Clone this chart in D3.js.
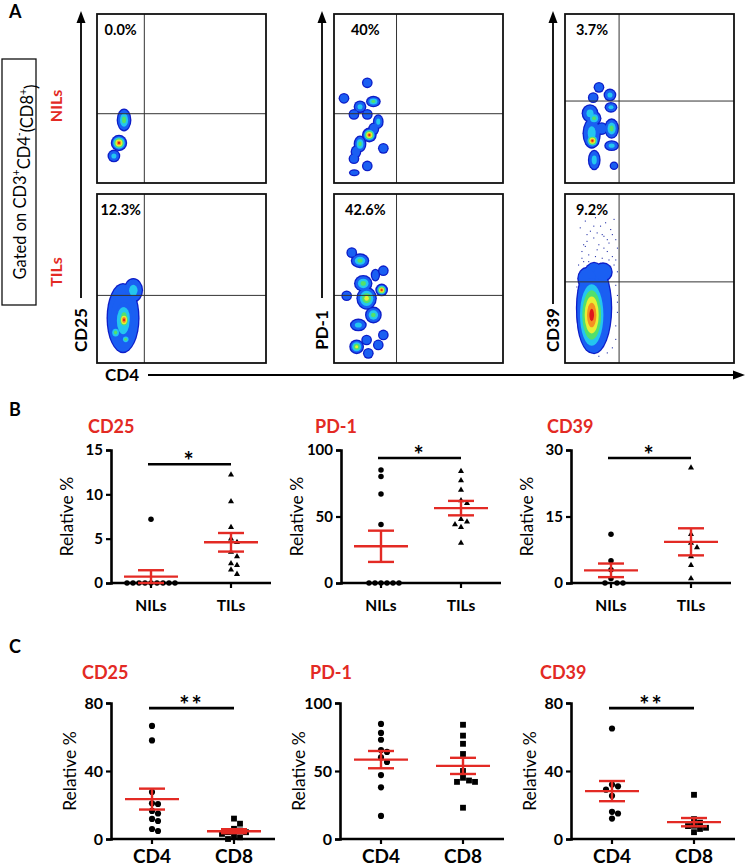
<!DOCTYPE html>
<html>
<head>
<meta charset="utf-8">
<script src="https://cdn.jsdelivr.net/npm/d3@7"></script>
<style>
  body { margin: 0; background: #fff; }
  svg { display: block; font-family: Lato, "Open Sans", sans-serif; }
</style>
</head>
<body>
<svg id="fig" width="745" height="866"></svg>
<script>
// ---------- data: panel A (flow plots, units 0-100 on both axes) ----------
const flowMarkers = ["CD25", "PD-1", "CD39"];
const flowGroups = ["NILs", "TILs"];
const flowPercents = [["0.0%", "12.3%"], ["40%", "42.6%"], ["3.7%", "9.2%"]];
const flowGates = [[[28, 41], [28, 40]], [[37, 41], [37, 40]], [[32, 48.5], [32, 48]]];

// blobs: [x, y, rx, ry, peak level]
const blobsCD25Nils = [[16, 37.3, 3.6, 6, 3], [13, 23.7, 4.1, 4.1, 6], [10, 16, 3, 3, 2]];
const blobsCD25Tils = [
  [15.4, 26.6, 9, 20, 1], [21.5, 43, 5, 6.5, 2], [15.5, 25, 7.5, 16, 2], [16, 27, 5, 9, 3],
  [11, 18, 3, 3.5, 3], [16, 25.5, 3.5, 5, 6], [17, 14, 2.5, 2.5, 3]
];
const blobsPD1Nils = [
  [19.7, 59.3, 2.4, 2.4, 1], [5.9, 50.1, 2.4, 2.4, 1], [23.3, 48.2, 3.6, 2.6, 3], [15.4, 45.1, 3, 3, 2],
  [11.8, 40.6, 2.4, 2.4, 1], [19.7, 40.6, 2.4, 2.4, 1], [26.2, 36.3, 2.4, 3.6, 2], [23.5, 32, 2.5, 3, 1],
  [20.9, 28.4, 3.6, 3.6, 6], [15.4, 23.1, 3, 4.2, 3], [13, 18.5, 2.4, 3, 1], [29.2, 20.5, 2.4, 2.4, 1],
  [11.8, 14.4, 2.4, 2.4, 1], [19.7, 10.1, 2.4, 2.4, 1], [12, 6.1, 2.4, 1.3, 1]
];
const blobsPD1Tils = [
  [10.5, 65.3, 2.4, 2.4, 1], [15.4, 60.5, 4.7, 3.6, 3], [29.2, 54.6, 2.4, 2.4, 1], [24.5, 52, 2, 3, 1],
  [28.2, 43.2, 3, 3, 6], [7.5, 39.8, 2.4, 2.4, 1], [17.3, 47.1, 4.7, 4.2, 3], [19.3, 38.3, 5.3, 6, 4],
  [23.3, 28.4, 4.2, 4.2, 3], [14.4, 22.5, 4.2, 3, 2], [13.4, 9.6, 3.6, 3.6, 4], [19.3, 13.6, 2.4, 2.4, 1],
  [26.2, 10.7, 2.4, 2.4, 1], [29.2, 16.6, 2.4, 2.4, 1], [20.3, 5.7, 2.4, 2.4, 1]
];
const blobsCD39Nils = [
  [20.1, 56.6, 2.4, 2.4, 1], [16.7, 50.5, 2.4, 2.4, 1], [26.6, 52.1, 3, 3, 2], [27.2, 44.8, 3, 2.4, 2],
  [14.8, 41.2, 4.2, 4.7, 2], [17.2, 38.3, 3.6, 3.6, 3], [15.8, 29.4, 4.7, 8.3, 2], [16.2, 25, 3.5, 3.5, 6],
  [27.6, 32.2, 3.6, 5.3, 3], [21.7, 32.2, 3, 3, 1], [27.6, 22.1, 3.6, 2.4, 2], [17.3, 13.6, 3, 5.3, 2],
  [29, 10.2, 1.8, 1.8, 1]
];
const blobsCD39Tils = [[17.2, 32.5, 10, 26.6, 1], [22.5, 53.8, 5, 5, 1], [13, 50, 5, 6, 1], [15.8, 28.4, 8.3, 21.9, 6]];
const dotsCD39Tils = [
  [9,80],[12,84],[15,78],[18,86],[21,81],[24,83],[27,79],[29,85],[13,72],[17,74],[20,70],[23,75],
  [26,71],[30,73],[10,66],[14,64],[19,67],[22,62],[25,66],[28,63],[31,68],[8,58],[11,56],[29,58],
  [31,54],[8,50],[30,46],[9,42],[31,40],[8,34],[31,30],[9,24],[30,22],[10,16],[30,14],[12,10],
  [28,9],[15,7],[25,6],[20,4],[16,88],[22,76],[11,60],[27,57],[12,69],[24,88],[7,45],[31,36],
  [10,62],[14,60],[18,63],[26,61],[30,61],[9,54],[12,52],[16,57],[21,59],[27,53],[13,76],[19,77],
  [25,73],[11,70],[28,76],[17,81],[23,68]
];
const flowBlobs = [[blobsCD25Nils, blobsCD25Tils], [blobsPD1Nils, blobsPD1Tils], [blobsCD39Nils, blobsCD39Tils]];
const flowDots = [[[], []], [[], []], [[], dotsCD39Tils]];

// ---------- data: panel B (NILs vs TILs) ----------
const bMarkers = ["CD25", "PD-1", "CD39"];
const bGroups = ["NILs", "TILs"];
const bCD25Nils = [7.2, 0, 0, 0, 0, 0, 0, 0, 0, 0];
const bCD25Tils = [12.2, 9.2, 6.3, 5.0, 4.6, 3.5, 3.0, 2.2, 2.0, 1.5, 1.0];
const bPD1Nils = [85, 80, 67, 44, 0, 0, 0, 0, 0, 0];
const bPD1Tils = [84, 77, 70, 62, 60, 48, 46, 44, 42, 30];
const bCD39Nils = [11, 5, 3, 1, 0, 0, 0];
const bCD39Tils = [26, 11, 9, 8, 6, 4, 1];
const bDomains = [[0, 15], [0, 100], [0, 30]];
const bTicks = [[0, 5, 10, 15], [0, 50, 100], [0, 15, 30]];
const bSig = [["*", 13.4], ["*", 94], ["*", 28.2]];

// ---------- data: panel C (CD4 vs CD8) ----------
const cMarkers = ["CD25", "PD-1", "CD39"];
const cGroups = ["CD4", "CD8"];
const cCD25CD4 = [66.5, 58, 27.6, 21, 20.6, 16.5, 15, 11.8, 10.6, 5.9, 4.7];
const cCD25CD8 = [12, 9, 6, 5, 4, 4, 3, 2, 1, 0];
const cPD1CD4 = [84.6, 78, 73, 65.4, 64, 60, 56.6, 47, 38, 17];
const cPD1CD8 = [84, 76, 70, 62.5, 50, 45, 42, 42, 43, 23];
const cCD39CD4 = [65, 31, 32, 29, 25.4, 16, 15, 12];
const cCD39CD8 = [26, 11.7, 9.6, 7.8, 5.9, 4, 6.6, 7.6];
const cDomains = [[0, 80], [0, 100], [0, 80]];
const cTicks = [[0, 40, 80], [0, 50, 100], [0, 40, 80]];
const cSig = [["**", 77], null, ["**", 77]];

const bValues = [[bCD25Nils, bCD25Tils], [bPD1Nils, bPD1Tils], [bCD39Nils, bCD39Tils]];
const cValues = [[cCD25CD4, cCD25CD8], [cPD1CD4, cPD1CD8], [cCD39CD4, cCD39CD8]];

// ---------- styles ----------
const RED = "#e32a24";
const JET = ["#0d1dc8", "#1a5ff2", "#24c6ef", "#52e06c", "#e9ef34", "#f49122", "#e0161b"];

const svg = d3.select("#fig");
svg.append("rect").attr("width", 745).attr("height", 866).attr("fill", "#fff");

function panelLetter(t, x, y) {
  svg.append("text").attr("x", x).attr("y", y).attr("font-size", 18).attr("font-weight", 700).text(t);
}

// ================= Panel A =================
panelLetter("A", 9, 18);
const colX = [97, 334, 565];
const rowY = [14, 194];
const box = 169;
const arrowX = [81, 322, 553];
const arrowEnd = [298, 298, 304];

const defs = svg.append("defs");
flowMarkers.forEach((m, c) => {
  flowGroups.forEach((grp, r) => {
    const g = svg.append("g").attr("transform", `translate(${colX[c]},${rowY[r]})`);
    const xS = d3.scaleLinear().domain([0, 100]).range([0, box]);
    const yS = d3.scaleLinear().domain([0, 100]).range([box, 0]);
    const clipId = `clip-${c}-${r}`;
    defs.append("clipPath").attr("id", clipId).append("rect").attr("width", box).attr("height", box);
    const inner = g.append("g").attr("clip-path", `url(#${clipId})`);

    // scattered events
    inner.selectAll("rect.ev").data(flowDots[c][r]).join("rect")
      .attr("x", d => xS(d[0]) - 0.5).attr("y", d => yS(d[1]) - 0.5)
      .attr("width", 1.1).attr("height", 1.1).attr("fill", "#2633a8");

    // density contours, drawn level by level so neighbouring blobs merge
    const blobs = flowBlobs[c][r];
    const rxPx = b => xS(b[2]) - xS(0);
    const ryPx = b => yS(0) - yS(b[3]);
    inner.selectAll("ellipse.edge").data(blobs).join("ellipse")
      .attr("cx", d => xS(d[0])).attr("cy", d => yS(d[1]))
      .attr("rx", d => rxPx(d) + 1.3).attr("ry", d => ryPx(d) + 1.3)
      .attr("fill", JET[0]);
    for (let k = 1; k <= 6; k++) {
      const sel = blobs.filter(b => b[4] >= k);
      inner.append("g").selectAll("ellipse").data(sel).join("ellipse")
        .attr("cx", d => xS(d[0])).attr("cy", d => yS(d[1]))
        .attr("rx", d => rxPx(d) * (1 - (k - 1) / d[4]))
        .attr("ry", d => ryPx(d) * (1 - (k - 1) / d[4]))
        .attr("fill", JET[k]);
    }

    // quadrant gates
    const [gx, gy] = flowGates[c][r];
    g.append("line").attr("x1", xS(gx)).attr("x2", xS(gx)).attr("y1", 0).attr("y2", box)
      .attr("stroke", "#333").attr("stroke-width", 1);
    g.append("line").attr("x1", 0).attr("x2", box).attr("y1", yS(gy)).attr("y2", yS(gy))
      .attr("stroke", "#333").attr("stroke-width", 1);
    g.append("rect").attr("width", box).attr("height", box)
      .attr("fill", "none").attr("stroke", "#111").attr("stroke-width", 1.8);

    g.append("text").attr("x", xS(gx / 2)).attr("y", 21)
      .attr("text-anchor", "middle").attr("font-size", 14.5).attr("font-weight", 700)
      .text(flowPercents[c][r]);
  });

  // vertical marker axis with arrow
  const ax = arrowX[c];
  svg.append("line").attr("x1", ax).attr("x2", ax).attr("y1", 20).attr("y2", arrowEnd[c])
    .attr("stroke", "#000").attr("stroke-width", 1.8);
  svg.append("path").attr("d", `M${ax - 4.5},23 L${ax},11 L${ax + 4.5},23 Z`).attr("fill", "#000");
  svg.append("text").attr("transform", `translate(${ax},330) rotate(-90)`)
    .attr("dy", "0.36em").attr("text-anchor", "middle")
    .attr("font-size", 17).attr("font-weight", 700).text(m);
});

// CD4 horizontal axis
svg.append("text").attr("x", 122).attr("y", 381).attr("text-anchor", "middle")
  .attr("font-size", 17).attr("font-weight", 700).text("CD4");
svg.append("line").attr("x1", 148).attr("x2", 736).attr("y1", 375).attr("y2", 375)
  .attr("stroke", "#000").attr("stroke-width", 1.8);
svg.append("path").attr("d", "M733,370.5 L745,375 L733,379.5 Z").attr("fill", "#000");

// gating box
svg.append("rect").attr("x", 2).attr("y", 59).attr("width", 34).attr("height", 246)
  .attr("fill", "none").attr("stroke", "#111").attr("stroke-width", 1.3);
const gt = svg.append("text").attr("transform", "translate(20,182) rotate(-90)")
  .attr("dy", "0.36em").attr("text-anchor", "middle").attr("font-size", 16.5);
gt.append("tspan").text("Gated on CD3");
gt.append("tspan").attr("font-size", 10.5).attr("dy", "-0.6em").text("+");
gt.append("tspan").attr("dy", "0.6em").text("CD4");
gt.append("tspan").attr("font-size", 10.5).attr("dy", "-0.6em").text("-");
gt.append("tspan").attr("dy", "0.6em").text("(CD8");
gt.append("tspan").attr("font-size", 10.5).attr("dy", "-0.6em").text("+");
gt.append("tspan").attr("dy", "0.6em").text(")");

[["NILs", 106], ["TILs", 272]].forEach(([t, cy]) => {
  svg.append("text").attr("transform", `translate(56,${cy}) rotate(-90)`)
    .attr("dy", "0.36em").attr("text-anchor", "middle")
    .attr("font-size", 16).attr("font-weight", 700).attr("fill", RED).text(t);
});

// ================= Panels B & C =================
function swarmOffsets(vals, yS, step) {
  const placed = [];
  const offs = new Array(vals.length);
  const order = vals.map((v, i) => i).sort((a, b) => vals[b] - vals[a]);
  for (const i of order) {
    const y = yS(vals[i]);
    for (let k = 0; ; k++) {
      const o = k === 0 ? 0 : (k % 2 ? 1 : -1) * Math.ceil(k / 2) * step;
      if (placed.every(p => Math.hypot(p.x - o, p.y - y) >= step)) {
        offs[i] = o; placed.push({ x: o, y }); break;
      }
    }
  }
  return offs;
}

function dotPlot(cfg) {
  const { axisX, yTop, yBottom, span, domain, ticks, groups, values, shapes, sizes,
          sig, title, titleX, titleY, catFont, catY, tickFont, labelX } = cfg;
  const g = svg.append("g");
  const y = d3.scaleLinear().domain(domain).range([yBottom, yTop]);
  const x = d3.scalePoint().domain(groups).range([axisX, axisX + span]).padding(0.5);

  g.append("text").attr("x", titleX).attr("y", titleY).attr("font-size", 18)
    .attr("font-weight", 700).attr("fill", RED).text(title);

  const yAxis = g.append("g").attr("transform", `translate(${axisX},0)`)
    .call(d3.axisLeft(y).tickValues(ticks).tickSize(5).tickPadding(3));
  yAxis.select(".domain").attr("stroke-width", 2.6);
  yAxis.selectAll(".tick line").attr("stroke-width", 2.2);
  yAxis.selectAll(".tick text").attr("font-size", tickFont).attr("font-weight", 700)
    .attr("font-family", "Lato, sans-serif").attr("fill", "#000");

  g.append("line").attr("x1", axisX).attr("x2", axisX + span).attr("y1", yBottom).attr("y2", yBottom)
    .attr("stroke", "#000").attr("stroke-width", 2.6);
  groups.forEach(grp => {
    g.append("line").attr("x1", x(grp)).attr("x2", x(grp)).attr("y1", yBottom).attr("y2", yBottom + 5)
      .attr("stroke", "#000").attr("stroke-width", 2.2);
    g.append("text").attr("x", x(grp)).attr("y", catY).attr("text-anchor", "middle")
      .attr("font-size", catFont).attr("font-weight", 700).text(grp);
  });

  g.append("text").attr("transform", `translate(${labelX},${(yTop + yBottom) / 2}) rotate(-90)`)
    .attr("dy", "0.36em").attr("text-anchor", "middle").attr("font-size", 17.5).text("Relative %");

  groups.forEach((grp, gi) => {
    const vals = values[gi];
    const offs = swarmOffsets(vals, y, 6);
    const sym = d3.symbol().type(shapes[gi]).size(sizes[gi]);
    g.append("g").selectAll("path").data(vals).join("path")
      .attr("transform", (d, i) => `translate(${x(grp) + offs[i]},${y(d)})`)
      .attr("d", sym).attr("fill", "#000");

    const m = d3.mean(vals);
    const sem = d3.deviation(vals) / Math.sqrt(vals.length);
    const cx = x(grp);
    const red = g.append("g").attr("stroke", RED).attr("stroke-width", 2.4);
    red.append("line").attr("x1", cx - 27).attr("x2", cx + 27).attr("y1", y(m)).attr("y2", y(m));
    red.append("line").attr("x1", cx).attr("x2", cx).attr("y1", y(Math.max(0, m - sem))).attr("y2", y(m + sem));
    red.append("line").attr("x1", cx - 13).attr("x2", cx + 13).attr("y1", y(m + sem)).attr("y2", y(m + sem));
    red.append("line").attr("x1", cx - 13).attr("x2", cx + 13).attr("y1", y(Math.max(0, m - sem))).attr("y2", y(Math.max(0, m - sem)));
  });

  if (sig) {
    const [txt, v] = sig;
    const x1 = x(groups[0]) - 3, x2 = x(groups[1]);
    g.append("line").attr("x1", x1).attr("x2", x2).attr("y1", y(v)).attr("y2", y(v))
      .attr("stroke", "#000").attr("stroke-width", 2.6);
    g.append("text").attr("x", (x1 + x2) / 2).attr("y", y(v) + 6).attr("text-anchor", "middle")
      .attr("font-size", 24).attr("font-weight", 700).attr("letter-spacing", 2).text(txt);
  }
}

// Panel B
panelLetter("B", 9, 416);
const bAxisX = [111, 341, 571];
const bTitleX = [88, 315, 547];
bMarkers.forEach((m, i) => {
  dotPlot({
    axisX: bAxisX[i], yTop: 450, yBottom: 583, span: 160,
    domain: bDomains[i], ticks: bTicks[i], groups: bGroups, values: bValues[i],
    shapes: [d3.symbolCircle, d3.symbolTriangle], sizes: [24, 16],
    sig: bSig[i], title: m, titleX: bTitleX[i], titleY: 433,
    catFont: 15.5, catY: 611, tickFont: 15, labelX: bAxisX[i] - 44
  });
});

// Panel C
panelLetter("C", 9, 653);
const cAxisX = [111, 340, 571];
const cTitleX = [82, 310, 540];
cMarkers.forEach((m, i) => {
  dotPlot({
    axisX: cAxisX[i], yTop: 703, yBottom: 839, span: 164,
    domain: cDomains[i], ticks: cTicks[i], groups: cGroups, values: cValues[i],
    shapes: [d3.symbolCircle, d3.symbolSquare], sizes: [30, 34],
    sig: cSig[i], title: m, titleX: cTitleX[i], titleY: 679,
    catFont: 19, catY: 863, tickFont: 16, labelX: cAxisX[i] - 41
  });
});
</script>
</body>
</html>
